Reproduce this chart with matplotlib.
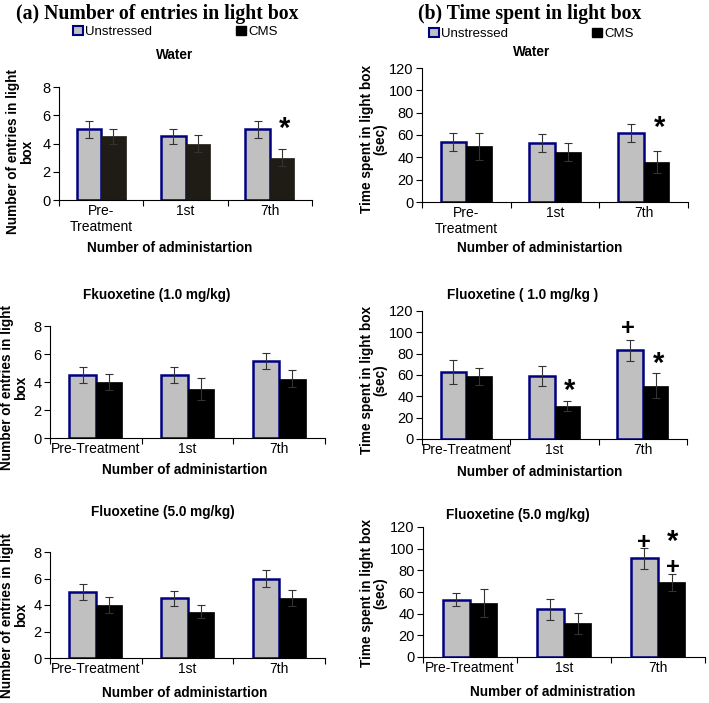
import numpy as np
import matplotlib
matplotlib.use('Agg')
import matplotlib.pyplot as plt
from matplotlib.patches import Patch

plt.rcParams['font.family'] = ['Liberation Sans', 'DejaVu Sans']

W, H = 709, 703

groups_top = ['Pre-\nTreatment', '1st', '7th']
groups = ['Pre-Treatment', '1st', '7th']

# (a) number of entries in light box
water_n_u = [5.0, 4.5, 5.0]
water_n_u_err = [0.6, 0.5, 0.6]
water_n_c = [4.5, 4.0, 3.0]
water_n_c_err = [0.5, 0.6, 0.6]

flx1_n_u = [4.5, 4.5, 5.5]
flx1_n_u_err = [0.55, 0.55, 0.55]
flx1_n_c = [4.0, 3.5, 4.25]
flx1_n_c_err = [0.6, 0.8, 0.6]

flx5_n_u = [5.0, 4.5, 6.0]
flx5_n_u_err = [0.6, 0.55, 0.65]
flx5_n_c = [4.0, 3.5, 4.5]
flx5_n_c_err = [0.6, 0.5, 0.6]

# (b) time spent in light box (sec)
water_t_u = [54, 53, 62]
water_t_u_err = [8, 8, 8]
water_t_c = [50, 45, 36]
water_t_c_err = [12, 8, 10]

flx1_t_u = [63, 59, 83]
flx1_t_u_err = [11, 9, 10]
flx1_t_c = [59, 31, 50]
flx1_t_c_err = [8, 5, 12]

flx5_t_u = [53, 44, 91]
flx5_t_u_err = [6, 10, 10]
flx5_t_c = [50, 31, 69]
flx5_t_c_err = [13, 10, 8]

fig = plt.figure(figsize=(W / 100, H / 100), dpi=100)


def px_axes(l, r, t, b):
    return fig.add_axes([l / W, 1 - b / H, (r - l) / W, (b - t) / H])


def ftext(x, y, s, **kw):
    fig.text(x / W, 1 - y / H, s, **kw)


def bars(ax, u, ue, c, ce, labels, ymax, ystep, cms_color='black'):
    x = np.arange(3) + 0.5
    w = 0.29
    ax.bar(x - w / 2, u, w, color='#c0c0c0', edgecolor='#000080', linewidth=1.8,
           yerr=ue, error_kw=dict(ecolor='#333333', elinewidth=0.8, capsize=3, capthick=0.8))
    ax.bar(x + w / 2, c, w, color=cms_color, edgecolor=cms_color, linewidth=0.5,
           yerr=ce, error_kw=dict(ecolor='#333333', elinewidth=0.8, capsize=3, capthick=0.8))
    ax.set_xlim(0, 3)
    ax.set_ylim(0, ymax)
    ax.set_yticks(np.arange(0, ymax + 1e-9, ystep))
    ax.set_xticks([0, 1, 2, 3])
    ax.set_xticklabels([])
    ax.set_xticks(x, minor=True)
    ax.set_xticklabels(labels, minor=True, fontsize=10)
    ax.tick_params(axis='x', which='minor', length=0, pad=3)
    ax.tick_params(axis='x', which='major', length=4, width=0.8, direction='out')
    ax.tick_params(axis='y', length=4, width=0.8, labelsize=10.5, pad=2)
    for s in ['top', 'right']:
        ax.spines[s].set_visible(False)
    for s in ['left', 'bottom']:
        ax.spines[s].set_linewidth(0.8)
    return x, w


def mark(ax, xv, yv, s, size=21):
    ax.text(xv, yv, s, ha='center', va='center', fontsize=size, fontweight='bold')


# ---- panel titles ----
ftext(157, 14, '(a) Number of entries in light box', ha='center', va='center',
      fontsize=14.2, fontweight='bold', family='Liberation Serif')
ftext(530, 14, '(b) Time spent in light box', ha='center', va='center',
      fontsize=14.2, fontweight='bold', family='Liberation Serif')

handles = [Patch(facecolor='#c0c0c0', edgecolor='#000080', linewidth=1.5),
           Patch(facecolor='black', edgecolor='black')]
fig.legend(handles, ['Unstressed', 'CMS'], ncol=2, loc='center left',
           bbox_to_anchor=(73 / W, 1 - 32 / H), frameon=False, fontsize=9.5,
           handlelength=0.75, handleheight=0.75, handletextpad=0.15, columnspacing=6.4,
           borderpad=0, borderaxespad=0)
fig.legend(handles, ['Unstressed', 'CMS'], ncol=2, loc='center left',
           bbox_to_anchor=(429 / W, 1 - 34 / H), frameon=False, fontsize=9.5,
           handlelength=0.75, handleheight=0.75, handletextpad=0.15, columnspacing=6.4,
           borderpad=0, borderaxespad=0)

ylab_a = 'Number of entries in light\nbox'
ylab_b = 'Time spent in light box\n(sec)'
bold = dict(fontweight='bold', fontsize=9.8)
ylab_kw = dict(ha='center', va='center', rotation=90, multialignment='center',
               linespacing=0.95, **bold)

# ---- row 1 : Water ----
ax = px_axes(59, 312, 87, 200)
x, w = bars(ax, water_n_u, water_n_u_err, water_n_c, water_n_c_err, groups_top, 8, 2,
            cms_color='#1e1c14')
mark(ax, x[2] + w / 2 + 0.03, 5.0, '*')
ftext(175, 55, 'Water', ha='center', va='center', **bold)
ftext(20, 152, ylab_a, **ylab_kw)
ftext(170, 248, 'Number of administartion', ha='center', va='center', **bold)

ax = px_axes(422, 688, 68, 202)
x, w = bars(ax, water_t_u, water_t_u_err, water_t_c, water_t_c_err, groups_top, 120, 20)
mark(ax, x[2] + w / 2 + 0.03, 66, '*')
ftext(532, 52, 'Water', ha='center', va='center', **bold)
ftext(374, 139, ylab_b, **ylab_kw)
ftext(540, 248, 'Number of administartion', ha='center', va='center', **bold)

# ---- row 2 : Fluoxetine 1.0 ----
ax = px_axes(50, 325, 326, 438)
x, w = bars(ax, flx1_n_u, flx1_n_u_err, flx1_n_c, flx1_n_c_err, groups, 8, 2)
ftext(157, 295, 'Fkuoxetine (1.0 mg/kg)', ha='center', va='center', **bold)
ftext(14, 388, ylab_a, **ylab_kw)
ftext(185, 470, 'Number of administartion', ha='center', va='center', **bold)

ax = px_axes(422, 687, 311, 439)
x, w = bars(ax, flx1_t_u, flx1_t_u_err, flx1_t_c, flx1_t_c_err, groups, 120, 20)
mark(ax, x[1] + w / 2 + 0.03, 45, '*')
mark(ax, x[2] + w / 2 + 0.03, 70, '*')
mark(ax, x[2] - w / 2 - 0.02, 104, '+', size=17)
ftext(523, 295, 'Fluoxetine ( 1.0 mg/kg )', ha='center', va='center', **bold)
ftext(374, 380, ylab_b, **ylab_kw)
ftext(540, 472, 'Number of administartion', ha='center', va='center', **bold)

# ---- row 3 : Fluoxetine 5.0 ----
ax = px_axes(50, 325, 552, 658)
x, w = bars(ax, flx5_n_u, flx5_n_u_err, flx5_n_c, flx5_n_c_err, groups, 8, 2)
ftext(163, 512, 'Fluoxetine (5.0 mg/kg)', ha='center', va='center', **bold)
ftext(14, 615, ylab_a, **ylab_kw)
ftext(185, 693, 'Number of administartion', ha='center', va='center', **bold)

ax = px_axes(423, 705, 527, 657)
x, w = bars(ax, flx5_t_u, flx5_t_u_err, flx5_t_c, flx5_t_c_err, groups, 120, 20)
mark(ax, x[2] - w / 2, 106, '+', size=17)
mark(ax, x[2] + w / 2 + 0.01, 83, '+', size=17)
mark(ax, x[2] + w / 2 + 0.01, 106, '*')
ftext(518, 515, 'Fluoxetine (5.0 mg/kg)', ha='center', va='center', **bold)
ftext(374, 593, ylab_b, **ylab_kw)
ftext(553, 692, 'Number of administration', ha='center', va='center', **bold)

fig.savefig('out.png', dpi=100)
